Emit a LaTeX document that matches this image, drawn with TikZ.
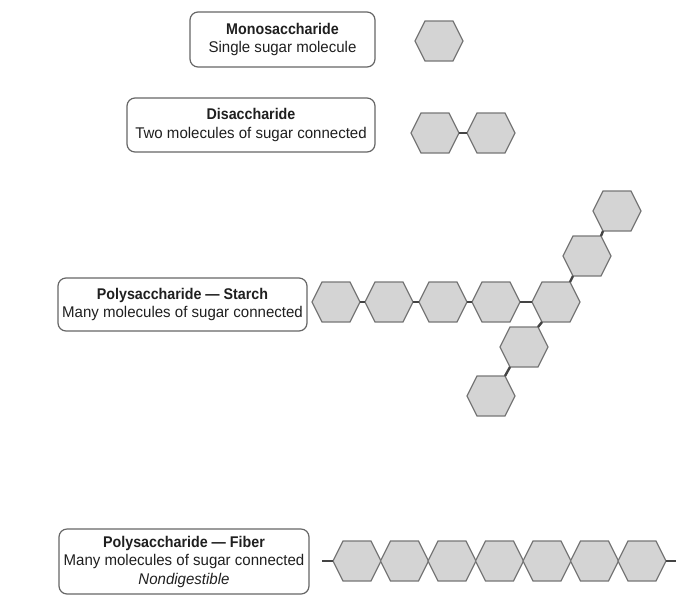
\documentclass[tikz,border=0pt]{standalone}
\usepackage{fontspec}
\setmainfont{Liberation Sans}[FakeStretch=0.97,BoldFeatures={FakeStretch=0.92}]
\definecolor{hexfill}{HTML}{D4D4D4}
\definecolor{hexline}{HTML}{777777}
\definecolor{boxline}{HTML}{666666}
\definecolor{bondline}{HTML}{444444}
\tikzset{
  label box/.style={draw=boxline, line width=1.2pt, rounded corners=8pt,
    align=center, inner sep=0pt, text=black!88,
    font=\fontsize{15.5}{18.5}\selectfont},
  hexagon/.style={draw=hexline, fill=hexfill, line width=1.3pt},
  bond/.style={draw=bondline, line width=2.4pt},
  sugar/.pic={
    \draw[hexagon] (-24,0) coordinate (-l) -- (-14,-20) coordinate (-tl)
      -- (14,-20) coordinate (-tr) -- (24,0) coordinate (-r)
      -- (14,20) coordinate (-br) -- (-14,20) coordinate (-bl) -- cycle;
  }
}
\begin{document}
\begin{tikzpicture}[x=1pt,y=-1pt]
      \useasboundingbox (0,0) rectangle (700,600);
      \node[label box, minimum width=185pt, minimum height=55pt] (mono) at (282.5,39.5)
        {\textbf{Monosaccharide}\\Single sugar molecule};
      \node[label box, minimum width=248pt, minimum height=54pt] (di) at (251,125)
        {\textbf{Disaccharide}\\Two molecules of sugar connected};
      \node[label box, minimum width=249pt, minimum height=53pt] (starch) at (182.5,304.5)
        {\textbf{Polysaccharide — Starch}\\Many molecules of sugar connected};
      \node[label box, minimum width=250pt, minimum height=65pt] (fiber) at (184,561.5)
        {\textbf{Polysaccharide — Fiber}\\Many molecules of sugar connected\\\textit{Nondigestible}};
      \pic (m1) at (439,41) {sugar};
      \pic (d1) at (435,133) {sugar};
      \pic (d2) at (491,133) {sugar};
      \pic (s1) at (336,302) {sugar};
      \pic (s2) at (389,302) {sugar};
      \pic (s3) at (443,302) {sugar};
      \pic (s4) at (496,302) {sugar};
      \pic (s5) at (556,302) {sugar};
      \pic (u1) at (587,256) {sugar};
      \pic (u2) at (617,211) {sugar};
      \pic (w1) at (524,347) {sugar};
      \pic (w2) at (491,396) {sugar};
      \pic (f1) at (357,561) {sugar};
      \pic (f2) at (404.5,561) {sugar};
      \pic (f3) at (452,561) {sugar};
      \pic (f4) at (499.5,561) {sugar};
      \pic (f5) at (547,561) {sugar};
      \pic (f6) at (594.5,561) {sugar};
      \pic (f7) at (642,561) {sugar};
      \coordinate (fl) at (322,561);
      \coordinate (fr) at (676,561);
      \begin{scope}[bond]
        \draw (d1-r) -- (d2-l);
        \draw (s1-r) -- (s2-l);
        \draw (s2-r) -- (s3-l);
        \draw (s3-r) -- (s4-l);
        \draw (s4-r) -- (s5-l);
        \draw (s5-tr) -- (u1-bl);
        \draw (u1-tr) -- (u2-bl);
        \draw (s5-bl) -- (w1-tr);
        \draw (w1-bl) -- (w2-tr);
        \draw (fl) -- (f1-l);
        \draw (f7-r) -- (fr);
      \end{scope}
    \end{tikzpicture}
\end{document}
